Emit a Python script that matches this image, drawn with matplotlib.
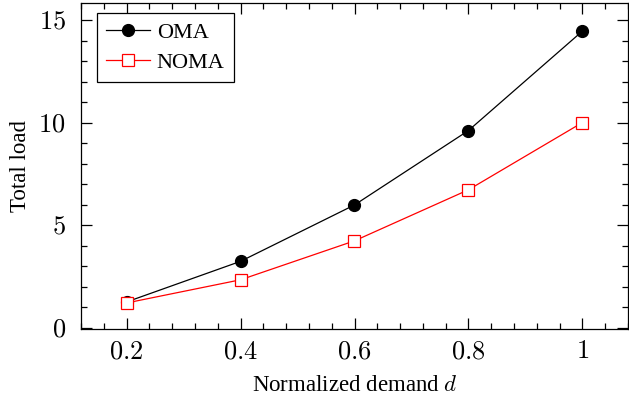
import matplotlib
matplotlib.use("Agg")
import matplotlib.pyplot as plt
from matplotlib.ticker import MultipleLocator, FuncFormatter

plt.rcParams['font.family'] = ['Liberation Serif', 'DejaVu Serif']
plt.rcParams['mathtext.fontset'] = 'cm'

demand = [0.2, 0.4, 0.6, 0.8, 1.0]
oma_load = [1.27, 3.25, 6.0, 9.63, 14.48]
noma_load = [1.22, 2.35, 4.25, 6.74, 10.02]

fig = plt.figure(figsize=(6.29, 4.03), dpi=100)
ax = fig.add_axes([81 / 629, 1 - 329 / 403, 547 / 629, 326 / 403])

ax.plot(demand, oma_load, color='black', lw=0.9, marker='o', ms=8.5,
        mfc='black', mec='black', label='OMA')
ax.plot(demand, noma_load, color='red', lw=0.9, marker='s', ms=8,
        mfc='white', mec='red', mew=0.9, label='NOMA')

ax.set_xlim(0.12, 1.08)
ax.set_ylim(-0.05, 15.85)
ax.xaxis.set_major_locator(MultipleLocator(0.2))
ax.xaxis.set_minor_locator(MultipleLocator(0.04))
ax.yaxis.set_major_locator(MultipleLocator(5))
ax.yaxis.set_minor_locator(MultipleLocator(1))
ax.xaxis.set_major_formatter(FuncFormatter(lambda v, p: '$%g$' % round(v, 2)))
ax.yaxis.set_major_formatter(FuncFormatter(lambda v, p: '$%g$' % round(v, 2)))

ax.tick_params(which='both', direction='in', top=True, right=True,
               labelsize=19, width=0.9)
ax.tick_params(which='major', length=7.7)
ax.tick_params(axis='x', which='major', pad=9)
ax.tick_params(axis='y', which='major', pad=11)
ax.tick_params(which='minor', length=4.3)
for s in ax.spines.values():
    s.set_linewidth(0.9)

ax.set_xlabel('Normalized demand $d$', fontsize=16.5, labelpad=8)
ax.set_ylabel('Total load', fontsize=16.5, labelpad=5)

leg = ax.legend(loc='upper left', bbox_to_anchor=(0.029, 0.969), fontsize=16,
                fancybox=False, edgecolor='black', framealpha=1,
                handlelength=2.0, borderpad=0.4, labelspacing=0.45,
                handletextpad=0.3, borderaxespad=0)
leg.get_frame().set_linewidth(0.9)

fig.savefig('out.png', dpi=100)
